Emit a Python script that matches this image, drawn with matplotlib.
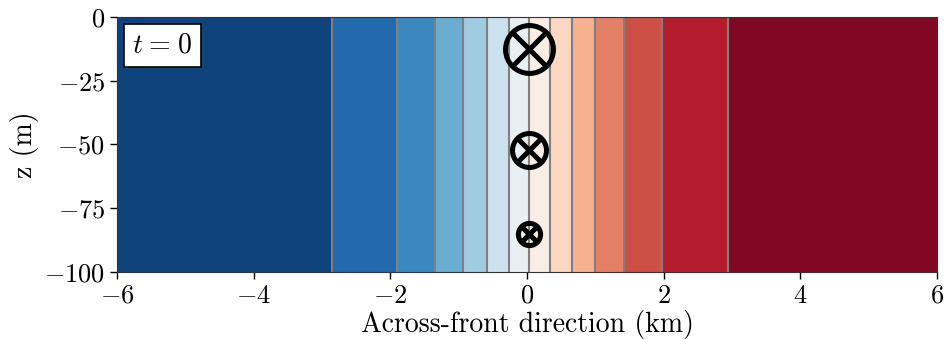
"""Initial front: across-front density bands with along-front jet markers."""
import matplotlib
matplotlib.use("Agg")
import matplotlib.pyplot as plt
import numpy as np

plt.rcParams.update({
    "font.family": "serif",
    "font.serif": ["cmr10"],
    "mathtext.fontset": "cm",
    "axes.formatter.use_mathtext": True,
    "axes.unicode_minus": True,
})

# -- data --
x_limits = [-6.0, 6.0]                       # km
z_limits = [-100.0, 0.0]                     # m
contour_x = [-2.86, -1.91, -1.35, -0.94, -0.58, -0.27, 0.03,
             0.34, 0.66, 1.00, 1.42, 1.98, 2.94]   # band boundaries (km)
band_level = list(range(14))                 # colour index of each band
jet_x = 0.03                                 # km, column of ⊗ markers
jet_depth = [-12.5, -52, -85]                # m, location of ⊗ markers
jet_size = [34.5, 24.5, 16]                  # marker size (pt)
jet_width = 3.6                              # marker edge width (pt)
x_ticks = [-6, -4, -2, 0, 2, 4, 6]
z_ticks = [0, -25, -50, -75, -100]

# -- figure --
fig = plt.figure(figsize=(9.49, 3.39), dpi=100)
ax = fig.add_axes([0.1233, 0.1976, 0.8641, 0.7523])

edges = np.array([x_limits[0]] + contour_x + [x_limits[1]])
ax.pcolormesh(edges, np.array(z_limits), np.array(band_level).reshape(1, -1),
              cmap="RdBu_r", vmin=-0.5, vmax=len(band_level) - 0.5,
              shading="flat")
ax.vlines(contour_x, z_limits[0], z_limits[1], color="gray", linewidth=1.5)

for z, s in zip(jet_depth, jet_size):
    ax.plot(jet_x, z, marker="o", markersize=s, markerfacecolor="none",
            markeredgecolor="black", markeredgewidth=jet_width, zorder=5)
    ax.plot(jet_x, z, marker="x", markersize=s * 0.68, color="black",
            markeredgewidth=jet_width, zorder=5)

ax.text(0.0186, 0.887, r"$t\hspace{0.08}=\hspace{0.08}0$",
        transform=ax.transAxes, fontsize=20, ha="left", va="center",
        bbox=dict(boxstyle="square,pad=0.3", facecolor="white",
                  edgecolor="black", linewidth=1.2))

ax.set_xlim(x_limits)
ax.set_ylim(z_limits)
ax.set_xticks(x_ticks)
ax.set_yticks(z_ticks)
ax.tick_params(labelsize=19, length=5, width=1)
ax.set_xlabel("Across-front direction (km)", fontsize=20, labelpad=2)
ax.set_ylabel("z (m)", fontsize=20, labelpad=4)
for sp in ax.spines.values():
    sp.set_color("#333333")

fig.savefig("out.png", dpi=100)
plt.close(fig)
